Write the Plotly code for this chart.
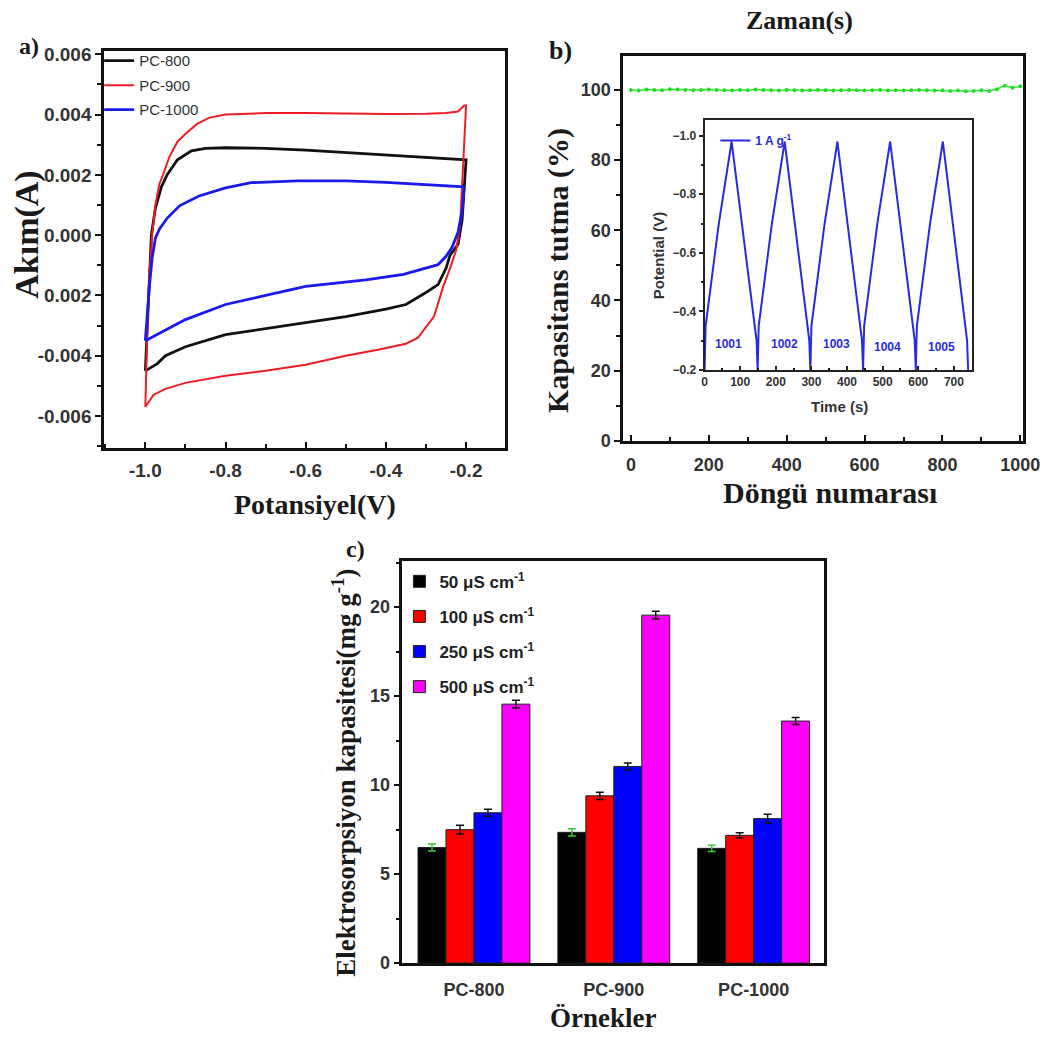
import plotly.graph_objects as go

W, H = 1064, 1044

# ---------------- Panel a: CV data ----------------
cv800_v = [-1.0, -0.995, -0.99, -0.985, -0.975, -0.96, -0.946, -0.92, -0.885, -0.85, -0.8, -0.7, -0.6, -0.5, -0.4, -0.3, -0.2,
           -0.205, -0.21, -0.22, -0.24, -0.25, -0.27, -0.3, -0.35, -0.4, -0.5, -0.6, -0.7, -0.8, -0.9, -0.95, -0.97, -1.0]
cv800_i = [-0.0045, -0.003, -0.0015, 0.0, 0.0009, 0.0016, 0.002, 0.0025, 0.0028, 0.00288, 0.0029, 0.00288, 0.00282, 0.00274, 0.00266, 0.00258, 0.0025,
           0.0015, 0.0005, -0.0003, -0.00066, -0.0011, -0.00164, -0.0019, -0.0023, -0.00245, -0.0027, -0.0029, -0.0031, -0.0033, -0.0037, -0.0040, -0.00426, -0.0045]

cv900_v = [-1.0, -0.998, -0.995, -0.99, -0.985, -0.983, -0.975, -0.965, -0.956, -0.94, -0.92, -0.897, -0.87, -0.84, -0.8, -0.7, -0.6, -0.5, -0.4, -0.3, -0.25, -0.22, -0.205, -0.2,
           -0.205, -0.21, -0.215, -0.225, -0.24, -0.257, -0.28, -0.32, -0.35, -0.42, -0.5, -0.6, -0.7, -0.8, -0.9, -0.95, -0.98, -1.0]
cv900_i = [-0.0057, -0.0045, -0.003, -0.0013, -0.0002, 0.0, 0.001, 0.0017, 0.002, 0.0026, 0.0031, 0.0034, 0.0037, 0.0039, 0.004, 0.00405, 0.00405, 0.00403, 0.00402, 0.00403, 0.00405, 0.0041, 0.0043, 0.0043,
           0.003, 0.0015, 0.0003, -0.0005, -0.0011, -0.0017, -0.0027, -0.0034, -0.0036, -0.0038, -0.0040, -0.0043, -0.0045, -0.00466, -0.0049, -0.0051, -0.0053, -0.0057]

cv1000_v = [-1.0, -0.995, -0.99, -0.983, -0.975, -0.965, -0.946, -0.914, -0.866, -0.8, -0.736, -0.62, -0.5, -0.4, -0.3, -0.22, -0.205,
            -0.21, -0.22, -0.235, -0.25, -0.27, -0.356, -0.45, -0.6, -0.7, -0.8, -0.9, -0.97, -1.0]
cv1000_i = [-0.0035, -0.0025, -0.0017, -0.00075, -0.0001, 0.0002, 0.00056, 0.00098, 0.0013, 0.00157, 0.00174, 0.0018, 0.0018, 0.00175, 0.00168, 0.0016, 0.0016,
            0.0008, 0.0001, -0.0004, -0.0007, -0.00098, -0.0013, -0.00148, -0.0017, -0.002, -0.0023, -0.0028, -0.0033, -0.0035]

# ---------------- Panel b: cycling data ----------------
cycle_no = [0, 20, 40, 60, 80, 100, 120, 140, 160, 180, 200, 220, 240, 260, 280, 300, 320, 340, 360, 380,
            400, 420, 440, 460, 480, 500, 520, 540, 560, 580, 600, 620, 640, 660, 680, 700, 720, 740, 760, 780,
            800, 820, 840, 860, 880, 900, 920, 940, 960, 980, 1000]
retention = [100.0, 99.8, 100.1, 100.0, 99.9, 100.2, 100.1, 100.0, 99.9, 100.0,
             100.1, 100.0, 99.9, 99.8, 100.0, 99.9, 100.1, 100.0, 99.9, 99.8,
             100.0, 99.9, 99.8, 99.9, 100.0, 99.9, 99.8, 99.9, 100.0, 99.9,
             99.8, 99.9, 100.0, 99.8, 99.9, 99.8, 99.9, 100.0, 99.9, 99.8,
             99.9, 99.7, 99.8, 99.6, 99.7, 99.9, 99.7, 100.2, 101.2, 100.6, 101.0]

gcd_t = [0, 3, 40, 76, 79, 146, 149,
         152, 189, 225, 228, 294, 297,
         300, 337, 373, 376, 442, 445,
         448, 485, 521, 524, 590, 593,
         596, 633, 669, 672, 737, 740]
gcd_v = [-0.2, -0.35, -0.70, -0.98, -0.95, -0.30, -0.2,
         -0.35, -0.70, -0.98, -0.95, -0.30, -0.2,
         -0.35, -0.70, -0.98, -0.95, -0.30, -0.2,
         -0.35, -0.70, -0.98, -0.95, -0.30, -0.2,
         -0.35, -0.70, -0.98, -0.95, -0.30, -0.2]
cycle_labels = ["1001", "1002", "1003", "1004", "1005"]
cycle_label_t = [66, 225, 371, 514, 665]
cycle_label_v = [-0.29, -0.29, -0.29, -0.28, -0.28]

# ---------------- Panel c: bar data ----------------
samples = ["PC-800", "PC-900", "PC-1000"]
cond_names = ["50 μS cm<sup>-1</sup>", "100 μS cm<sup>-1</sup>", "250 μS cm<sup>-1</sup>", "500 μS cm<sup>-1</sup>"]
cap_50 = [6.5, 7.35, 6.45]
cap_100 = [7.5, 9.4, 7.18]
cap_250 = [8.45, 11.05, 8.12]
cap_500 = [14.55, 19.55, 13.6]
err_50 = [0.2, 0.2, 0.18]
err_100 = [0.25, 0.2, 0.15]
err_250 = [0.2, 0.2, 0.25]
err_500 = [0.22, 0.22, 0.2]

SERIF = "Liberation Serif"
SANS = "Liberation Sans"

fig = go.Figure()

# Panel a traces
for v, i, name, col, lw in [(cv800_v, cv800_i, "PC-800", "#111111", 2.8),
                            (cv900_v, cv900_i, "PC-900", "#ee1c24", 2.0),
                            (cv1000_v, cv1000_i, "PC-1000", "#1a1aee", 2.8)]:
    fig.add_trace(go.Scatter(x=v, y=i, mode="lines", name=name, legendgroup=name,
                             line=dict(color=col, width=lw), xaxis="x", yaxis="y", legend="legend"))

# Panel b traces
fig.add_trace(go.Scatter(x=cycle_no, y=retention, mode="lines+markers", showlegend=False,
                         line=dict(color="#33e633", width=1.5), marker=dict(color="#22dd22", size=4),
                         xaxis="x2", yaxis="y2"))
fig.add_trace(go.Scatter(x=gcd_t, y=gcd_v, mode="lines", name="1 A g<sup>-1</sup>",
                         line=dict(color="#2a2ae0", width=2), xaxis="x3", yaxis="y3", legend="legend2"))

# Panel c traces
bar_cols = ["#000000", "#ff0000", "#0000ff", "#ff00ff"]
err_cols = ["#33cc33", "#111111", "#111111", "#111111"]
for vals, errs, name, col, ecol in zip([cap_50, cap_100, cap_250, cap_500],
                                       [err_50, err_100, err_250, err_500],
                                       cond_names, bar_cols, err_cols):
    fig.add_trace(go.Bar(x=samples, y=vals, name=name, legendgroup=name,
                         marker=dict(color=col, line=dict(color="#222222", width=1)),
                         error_y=dict(type="data", array=errs, color=ecol, thickness=1.5, width=4),
                         xaxis="x4", yaxis="y4", legend="legend3"))

def px_x(p):
    return p / W

def px_y(p):
    return 1 - p / H

tickfont = dict(family=SANS, size=18, color="#333333", weight="bold")
axis_common = dict(showline=True, linewidth=2.5, linecolor="#111111", mirror=True,
                   showgrid=False, zeroline=False, tickcolor="#111111", tickwidth=2)

fig.update_layout(
    width=W, height=H, margin=dict(l=0, r=0, t=0, b=0),
    paper_bgcolor="white", plot_bgcolor="white",
    barmode="group", bargap=0.2, bargroupgap=0,
    xaxis=dict(domain=[px_x(103), px_x(512)], anchor="y", range=[-1.103, -0.102],
               tickvals=[-1.0, -0.8, -0.6, -0.4, -0.2], ticktext=["-1.0", "-0.8", "-0.6", "-0.4", "-0.2"],
               ticks="inside", ticklen=6, minor=dict(ticks="inside", ticklen=4, dtick=0.1, tickcolor="#111111", tickwidth=2),
               tickfont=dict(family=SANS, size=19, color="#333333", weight="bold"), ticklabelstandoff=4, **axis_common),
    yaxis=dict(domain=[px_y(448), px_y(45)], anchor="x", range=[-0.00705, 0.0061],
               tickvals=[-0.006, -0.004, -0.002, 0.0, 0.002, 0.004, 0.006],
               ticktext=["-0.006", "-0.004", "0.002", "0.000", "0.002", "0.004", "0.006"],
               ticks="outside", ticklen=6, minor=dict(ticks="outside", ticklen=4, dtick=0.001, tickcolor="#111111", tickwidth=2),
               tickfont=dict(family=SANS, size=19, color="#333333", weight="bold"), **axis_common),
    xaxis2=dict(domain=[px_x(632), px_x(1040)], anchor="y2", range=[-20, 1008],
                tickvals=[0, 200, 400, 600, 800, 1000],
                ticks="inside", ticklen=6, minor=dict(ticks="inside", ticklen=4, dtick=100, tickcolor="#111111", tickwidth=2),
                tickfont=tickfont, ticklabelstandoff=6, **axis_common),
    yaxis2=dict(domain=[px_y(441), px_y(50)], anchor="x2", range=[0, 109.6],
                tickvals=[0, 20, 40, 60, 80, 100],
                ticks="outside", ticklen=6, minor=dict(ticks="outside", ticklen=4, dtick=10, tickcolor="#111111", tickwidth=2),
                tickfont=tickfont, **axis_common),
    xaxis3=dict(domain=[px_x(715), px_x(988)], anchor="y3", range=[0, 752],
                tickvals=[0, 100, 200, 300, 400, 500, 600, 700],
                ticks="inside", ticklen=4, minor=dict(ticks="inside", ticklen=2, dtick=50, tickcolor="#111111", tickwidth=1.5),
                tickfont=dict(family=SANS, size=12, color="#333333", weight="bold"),
                showline=True, linewidth=2, linecolor="#222222", mirror=True, showgrid=False, zeroline=False,
                tickcolor="#222222", tickwidth=1.5),
    yaxis3=dict(domain=[px_y(369), px_y(115)], anchor="x3", range=[-0.2, -1.053],
                tickvals=[-1.0, -0.8, -0.6, -0.4, -0.2],
                ticktext=["\u22121.0", "\u22120.8", "\u22120.6", "\u22120.4", "\u22120.2"],
                ticks="outside", ticklen=4, minor=dict(ticks="outside", ticklen=2, dtick=0.1, tickcolor="#222222", tickwidth=1.5),
                tickfont=dict(family=SANS, size=12, color="#333333", weight="bold"),
                showline=True, linewidth=2, linecolor="#222222", mirror=True, showgrid=False, zeroline=False,
                tickcolor="#222222", tickwidth=1.5),
    xaxis4=dict(domain=[px_x(407), px_x(837)], anchor="y4", range=[-0.512, 2.505],
                ticks="", tickfont=tickfont, ticklabelstandoff=8, **axis_common),
    yaxis4=dict(domain=[px_y(972), px_y(563)], anchor="x4", range=[0, 22.6],
                tickvals=[0, 5, 10, 15, 20],
                ticks="outside", ticklen=6, minor=dict(ticks="outside", ticklen=4, dtick=2.5, tickcolor="#111111", tickwidth=2),
                tickfont=tickfont, **axis_common),
    legend=dict(x=px_x(98), y=px_y(38), xanchor="left", yanchor="top", bgcolor="rgba(0,0,0,0)",
                font=dict(family=SANS, size=15, color="#333333"), tracegroupgap=2, itemwidth=30),
    legend2=dict(x=px_x(726), y=px_y(121), xanchor="left", yanchor="top", bgcolor="rgba(0,0,0,0)",
                 font=dict(family=SANS, size=12, color="#2a2ae0", weight="bold"), itemwidth=30),
    legend3=dict(x=px_x(404), y=px_y(566), xanchor="left", yanchor="top", bgcolor="rgba(0,0,0,0)",
                 font=dict(family=SANS, size=17, color="#222222", weight="bold"), tracegroupgap=10),
)

annotations = []

def ann(text, x, y, size, angle=0, family=SERIF, weight="bold", color="#1a1a1a"):
    annotations.append(dict(text=text, x=px_x(x), y=px_y(y), xref="paper", yref="paper",
                            xanchor="center", yanchor="middle", showarrow=False, textangle=angle,
                            font=dict(family=family, size=size, color=color, weight=weight)))

ann("a)", 27, 40, 24)
ann("b)", 568, 44, 26)
ann("c)", 359, 551, 24)
ann("Akım(A)", 25, 232, 34, angle=-90)
ann("Potansiyel(V)", 318, 506, 28)
ann("Zaman(s)", 812, 14, 26)
ann("Kapasitans tutma (%)", 565, 268, 30, angle=-90)
ann("Döngü numarası", 843, 494, 30)
ann("Elektrosorpsiyon kapasitesi(mg g<sup>-1</sup>)", 348, 778, 27, angle=-90)
ann("Örnekler", 612, 1028, 27)
ann("Potential (V)", 668, 252, 15, angle=-90, family=SANS, color="#333333")
ann("Time (s)", 853, 406, 15, family=SANS, color="#333333")

for lab, t, v in zip(cycle_labels, cycle_label_t, cycle_label_v):
    annotations.append(dict(text=lab, x=t, y=v, xref="x3", yref="y3", showarrow=False,
                            font=dict(family=SANS, size=12, color="#2a2ae0", weight="bold")))

fig.update_layout(annotations=annotations)

fig.write_html("out.html")
